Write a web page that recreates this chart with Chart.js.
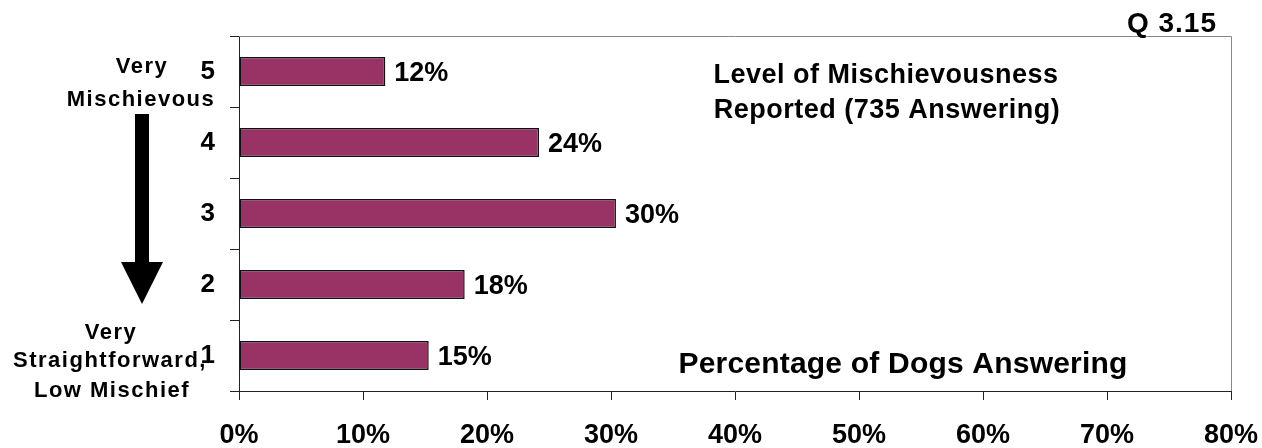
<!DOCTYPE html>
<html>
<head>
<meta charset="utf-8">
<script src="https://cdn.jsdelivr.net/npm/chart.js@4/dist/chart.umd.min.js"></script>
<style>
html,body{margin:0;padding:0;background:#fff;}
#wrap{width:1262px;height:448px;position:relative;}
</style>
</head>
<body>
<div id="wrap"><canvas id="c" width="1262" height="448"></canvas></div>
<script>
/* ── data ── */
const levels=['5','4','3','2','1'];
const shares=[11.8,24.2,30.4,18.2,15.3];
const shareLabels=['12%','24%','30%','18%','15%'];
const xMin=0,xMax=80,xStep=10;
const titleLines=['Level of Mischievousness','Reported (735 Answering)'];
const axisTitle='Percentage of Dogs Answering';
const qLabel='Q 3.15';
const topSide=['Very','Mischievous'];
const bottomSide=['Very','Straightforward,','Low Mischief'];

const FF="'Liberation Sans', Arial, sans-serif";
const ink='#000';
const barc='#993366';

// text with letter spacing
function txt(ctx,s,x,y,size,align,sp){
  ctx.save();
  ctx.font='bold '+size+'px '+FF;
  ctx.fillStyle=ink;ctx.textAlign=align;ctx.textBaseline='alphabetic';
  ctx.letterSpacing=(sp||0)+'px';
  ctx.fillText(s,x,y);
  ctx.restore();
}

const deco={
  id:'deco',
  afterDraw(chart){
    const ctx=chart.ctx,a=chart.chartArea;
    // grey frame top/right
    ctx.save();ctx.strokeStyle='#888';ctx.lineWidth=1;
    ctx.beginPath();ctx.moveTo(a.left,a.top+0.5);ctx.lineTo(a.right+0.5,a.top+0.5);ctx.lineTo(a.right+0.5,a.bottom);ctx.stroke();
    ctx.restore();
    // value labels next to bars
    const meta=chart.getDatasetMeta(0);
    meta.data.forEach((b,i)=>{
      ctx.save();ctx.font='bold 27px '+FF;ctx.fillStyle=ink;ctx.textAlign='left';ctx.textBaseline='middle';
      ctx.fillText(shareLabels[i],b.x+9,b.y+2);ctx.restore();
    });
    // titles
    txt(ctx,titleLines[0],886,83,27,'center',0.5);
    txt(ctx,titleLines[1],887,118,27,'center',0.5);
    txt(ctx,axisTitle,903,373,30,'center',0.2);
    txt(ctx,qLabel,1217,32,28,'right',1);
    // side captions
    txt(ctx,topSide[0],142,73,22,'center',1.5);
    txt(ctx,topSide[1],141,106,22,'center',1.5);
    txt(ctx,bottomSide[0],111,339,22,'center',1.5);
    txt(ctx,bottomSide[1],110,367,22,'center',1.5);
    txt(ctx,bottomSide[2],112,397,22,'center',1.5);
    // arrow
    ctx.save();ctx.fillStyle=ink;
    ctx.fillRect(135,114,14,149);
    ctx.beginPath();ctx.moveTo(121,262);ctx.lineTo(163,262);ctx.lineTo(142,304);ctx.closePath();ctx.fill();
    ctx.restore();
  }
};

new Chart(document.getElementById('c'),{
  type:'bar',
  data:{labels:levels,datasets:[{data:shares,backgroundColor:barc,borderColor:'#111',borderWidth:1.5,borderSkipped:false,barPercentage:0.41,categoryPercentage:1}]},
  options:{
    indexAxis:'y',responsive:false,animation:false,
    layout:{padding:{top:36,right:31,bottom:0,left:0}},
    plugins:{legend:{display:false},tooltip:{enabled:false}},
    scales:{
      x:{min:xMin,max:xMax,
        grid:{drawOnChartArea:false,drawTicks:true,tickLength:9,color:'#222'},
        border:{display:true,color:'#222',width:1},
        ticks:{stepSize:xStep,color:ink,padding:19,font:{family:FF,size:27,weight:'bold'},callback:v=>v+'%',maxRotation:0,autoSkip:false},
        afterFit(s){s.height=57;s.paddingRight=0;s.paddingLeft=0;}},
      y:{
        grid:{drawOnChartArea:false,drawTicks:true,tickLength:9,color:'#222',offset:true},
        border:{display:true,color:'#222',width:1},
        ticks:{color:ink,padding:15,font:{family:FF,size:26,weight:'bold'}},
        afterFit(s){s.width=239;s.paddingTop=0;s.paddingBottom=0;}}
    }
  },
  plugins:[deco]
});
</script>
</body>
</html>
